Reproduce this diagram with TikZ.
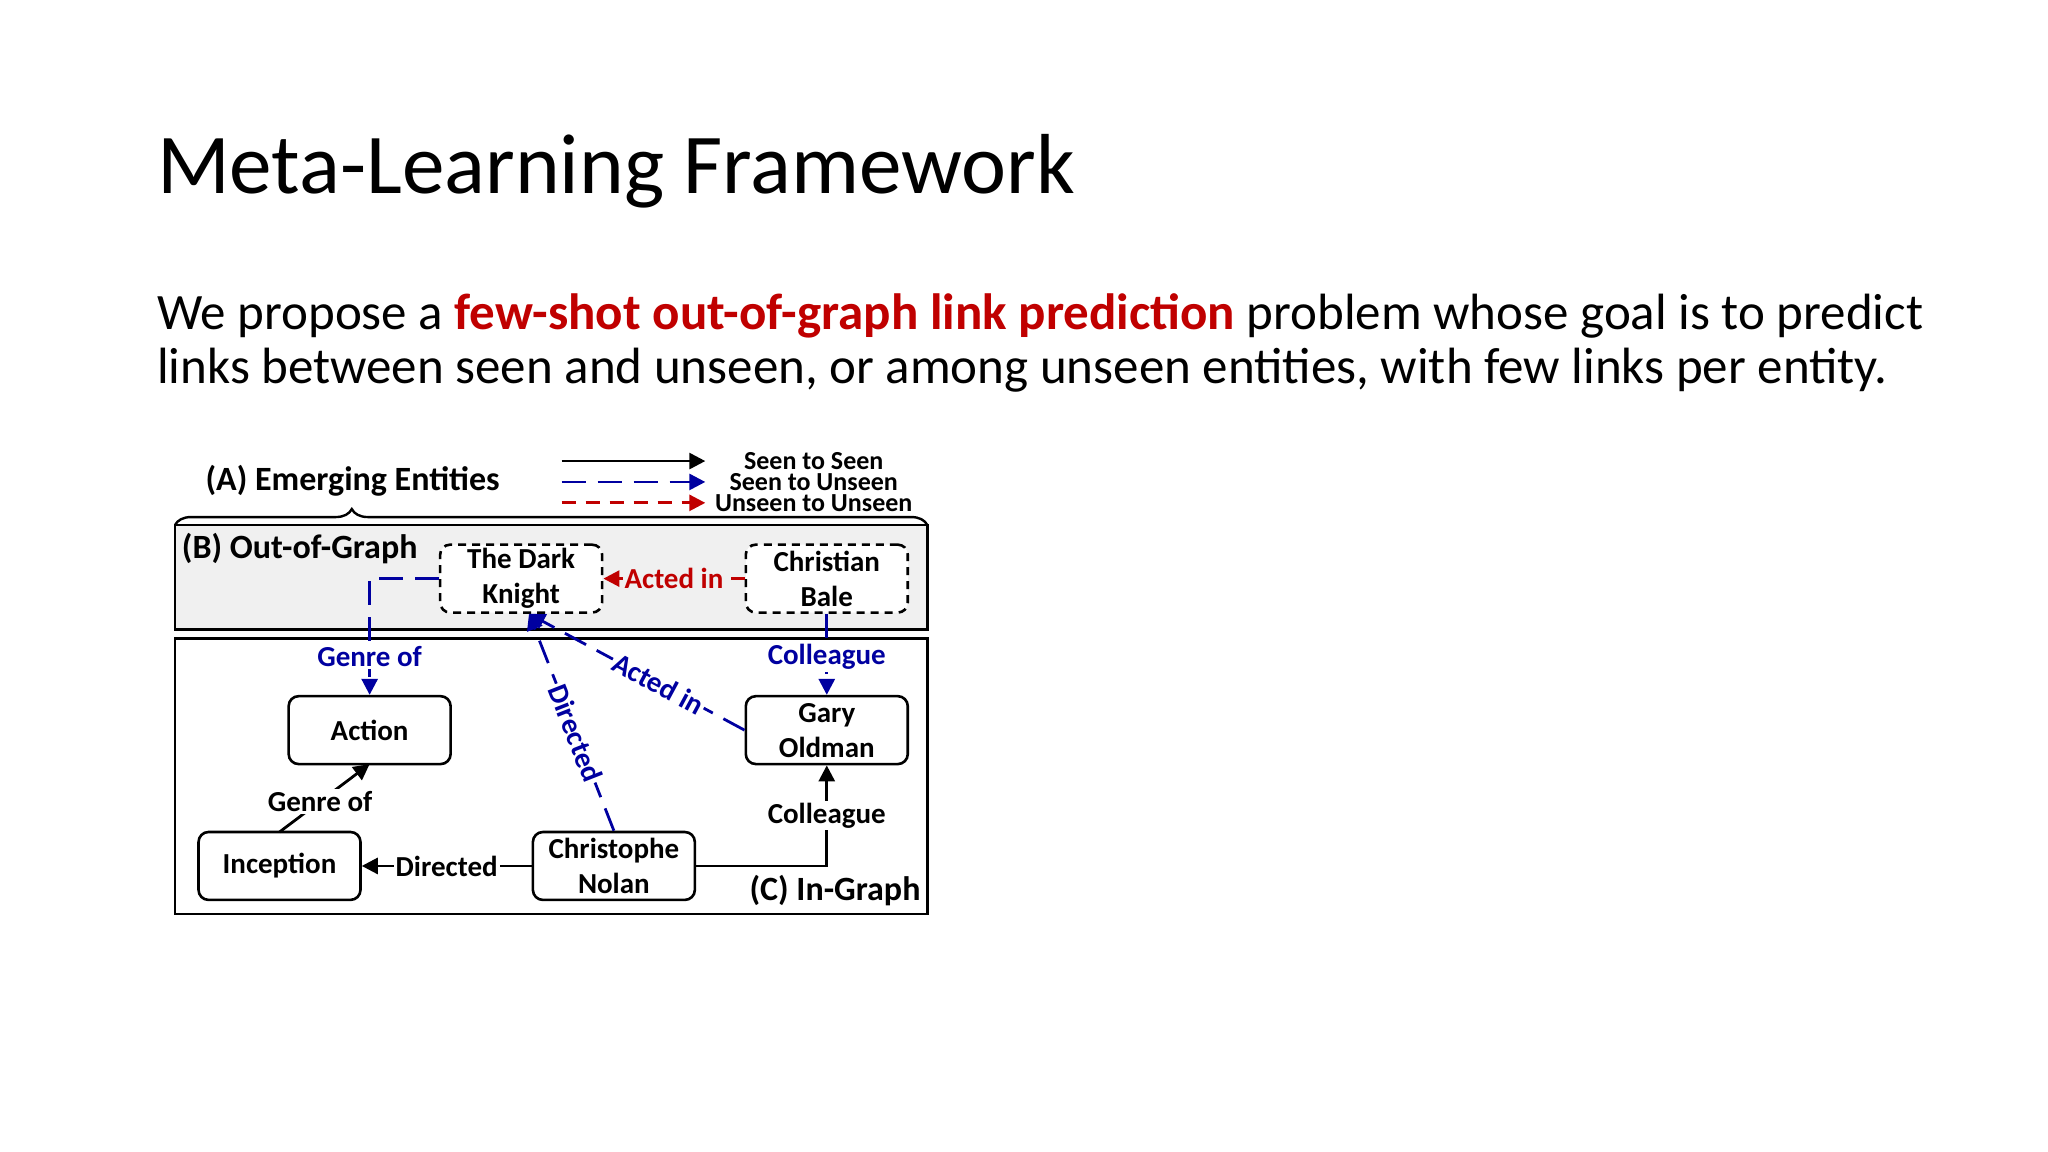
\documentclass[tikz,border=0pt]{standalone}
\usepackage{fontspec}
\setmainfont{Carlito}
\usetikzlibrary{arrows.meta,decorations.pathreplacing}
\definecolor{dred}{RGB}{192,0,0}
\definecolor{dblue}{RGB}{0,0,160}
\begin{document}
\begin{tikzpicture}[x=0.653pt,y=-0.653pt,
  ent/.style={draw,line width=1.3pt,rounded corners=5pt,minimum width=124*0.653pt,minimum height=52*0.653pt,align=center,font=\fontsize{14.5}{17.5}\selectfont\bfseries,inner sep=1pt},
  unseen/.style={ent,dash pattern=on 4pt off 3pt,fill=white},
  lbl/.style={font=\fontsize{14.5}{17}\selectfont\bfseries,inner sep=1pt},
  blk/.style={line width=1.4pt,-{Triangle[length=8pt,width=8pt]}},
  blu/.style={line width=1.4pt,dblue,dash pattern=on 12pt off 6pt,-{Triangle[length=8pt,width=8pt]}},
  rd/.style={line width=1.4pt,dred,dash pattern=on 7pt off 5pt,-{Triangle[length=8pt,width=8pt]}}]
\useasboundingbox (0,0) rectangle (1568,882);
\node[anchor=base west,font=\fontsize{42.6}{48}\selectfont,inner sep=0] (title) at (120,148) {Meta-Learning Framework};
\node[anchor=base west,font=\fontsize{25.5}{30}\selectfont,inner sep=0] (l1) at (120,252) {We propose a \textcolor{dred}{\bfseries few-shot out-of-graph link prediction} problem whose goal is to predict};
\node[anchor=base west,font=\fontsize{25.5}{30}\selectfont,inner sep=0] (l2) at (120,294) {links between seen and unseen, or among unseen entities, with few links per entity.};
% boxes
\draw[line width=1.2pt,fill=black!6] (134,402) rectangle (710,482);
\draw[line width=1.2pt] (134,489) rectangle (710,700);
\draw[line width=1.2pt,decorate,decoration={brace,amplitude=8pt,aspect=0.235}] (134,402) -- (710,402);
\node[font=\fontsize{17}{20}\selectfont\bfseries] (A) at (270,368) {(A) Emerging Entities};
\node[font=\fontsize{17}{20}\selectfont\bfseries,anchor=west,inner sep=0] (B) at (139,420) {(B) Out-of-Graph};
\node[font=\fontsize{17}{20}\selectfont\bfseries,anchor=east,inner sep=0] (C) at (705,682) {(C) In-Graph};
% legend
\coordinate (s1) at (430,353); \coordinate (e1) at (540,353);
\coordinate (s2) at (430,369); \coordinate (e2) at (540,369);
\coordinate (s3) at (430,385); \coordinate (e3) at (540,385);
\draw[blk] (s1) -- (e1);
\draw[blu] (s2) -- (e2);
\draw[rd] (s3) -- (e3);
\node[font=\fontsize{13}{14}\selectfont\bfseries,inner sep=0] (t1) at (623,353) {Seen to Seen};
\node[font=\fontsize{13}{14}\selectfont\bfseries,inner sep=0] (t2) at (623,369) {Seen to Unseen};
\node[font=\fontsize{13}{14}\selectfont\bfseries,inner sep=0] (t3) at (623,385) {Unseen to Unseen};
% nodes
\node[unseen] (tdk) at (399,443) {The Dark\\Knight};
\node[unseen] (cb) at (633,443) {Christian\\Bale};
\node[ent] (act) at (283,559) {Action};
\node[ent] (go) at (633,559) {Gary\\Oldman};
\node[ent] (inc) at (214,663) {Inception};
\node[ent] (cn) at (470,663) {Christophe\\Nolan};
% edges
\coordinate (gk) at (283,443);
\coordinate (gl) at (283,503);
\draw[blu] (tdk.west) -- (gk) -- (act.north);
\node[fill=white,text=dblue,lbl] (glab) at (gl) {Genre of};
\draw[rd] (cb.west) -- node[fill=black!6,text=dred,lbl]{Acted in} (tdk.east);
\draw[blu] (cb.south) -- (go.north);
\node[fill=white,text=dblue,lbl] (clab) at (633,503) {Colleague};
\coordinate (tdkb) at (405,470);
\draw[blu] (go.west) -- node[sloped,fill=white,text=dblue,lbl,pos=0.4]{Acted in} (tdkb);
\draw[blu] (cn.north) -- node[sloped,fill=white,text=dblue,lbl,pos=0.45]{Directed} (tdkb);
\coordinate (ia) at (214,637); \coordinate (ab) at (283,585);
\draw[blk] (ia) -- node[fill=white,lbl,pos=0.45]{Genre of} (ab);
\draw[blk] (cn.west) -- node[fill=white,lbl]{Directed} (inc.east);
\draw[blk] (cn.east) -| node[pos=0.75,fill=white,lbl]{Colleague} (go.south);
\end{tikzpicture}
\end{document}
